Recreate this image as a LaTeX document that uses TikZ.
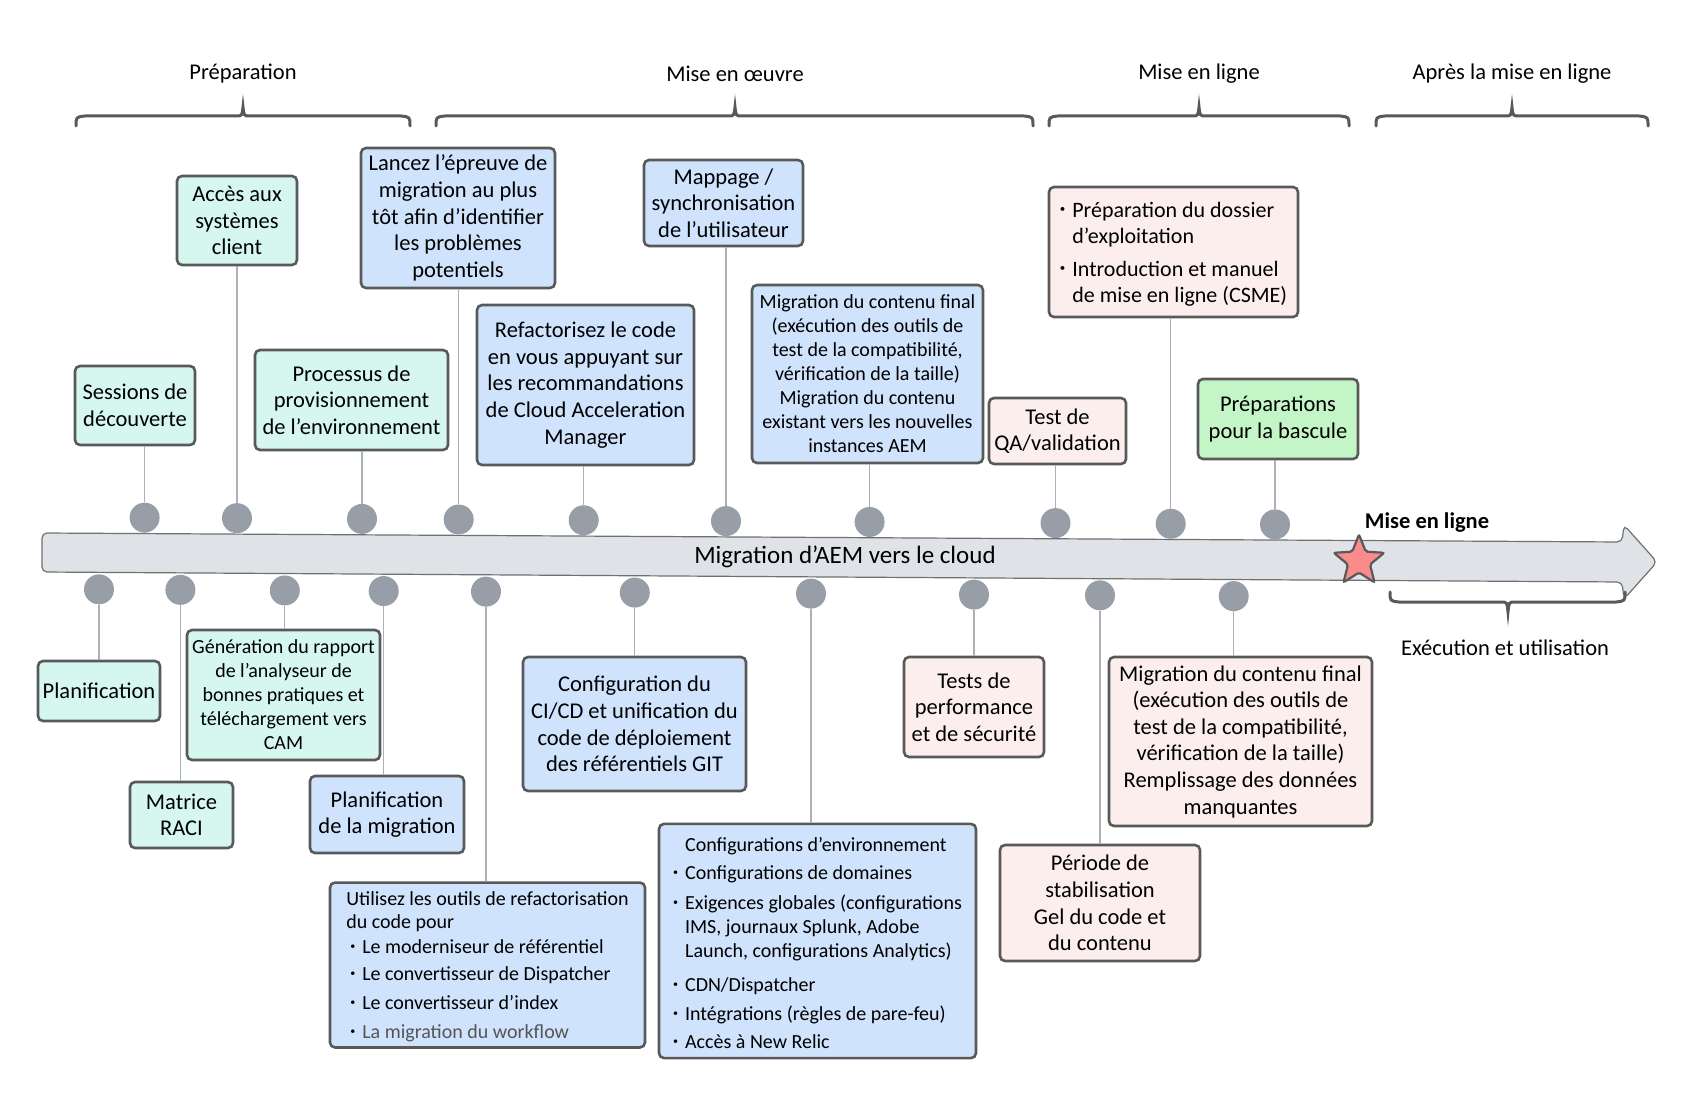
\documentclass[tikz,border=0pt]{standalone}
\usepackage{fontspec}
\setmainfont{Carlito}
\usepackage{graphicx}
\usetikzlibrary{shapes.geometric}

\definecolor{prepfill}{HTML}{D5F7EF}
\definecolor{implfill}{HTML}{CFE3FC}
\definecolor{livefill}{HTML}{FDEEEE}
\definecolor{cutfill}{HTML}{C3F5C7}
\definecolor{boxline}{HTML}{595959}
\definecolor{arrowfill}{HTML}{DFE2E6}
\definecolor{arrowline}{HTML}{707070}
\definecolor{dotfill}{HTML}{979EA8}
\definecolor{connline}{HTML}{ABB0B7}
\definecolor{starfill}{HTML}{F98B8B}
\definecolor{lasttext}{HTML}{555555}

% 小圆点
\newcommand{\bul}{\raisebox{0.2em}{\scalebox{0.5}{\textbullet}}}
% 阶段花括号(左端, 尖端, 右端)
\newcommand{\phasebrace}[3]{%
  \draw[brace] (#1,126) .. controls (#1,117) .. (#1+9,116) -- (#2-7,116)
    .. controls (#2-1,116) .. (#2,107) .. controls (#2+1,116) .. (#2+7,116)
    -- (#3-9,116) .. controls (#3,117) .. (#3,126);}

\tikzset{
  box/.style={draw=boxline, line width=2.6pt, rounded corners=5pt, align=center, inner sep=2pt},
  prepbox/.style={box, fill=prepfill},
  implbox/.style={box, fill=implfill},
  livebox/.style={box, fill=livefill},
  cutbox/.style={box, fill=cutfill},
  smalltext/.style={font=\fontsize{20}{24}\selectfont},
  dot/.style={circle, fill=dotfill, minimum size=30pt, inner sep=0pt},
  conn/.style={draw=connline, line width=1.3pt},
  brace/.style={draw=boxline, line width=3pt, line cap=round},
  arrowbody/.style={draw=arrowline, fill=arrowfill, line width=1.2pt, rounded corners=5pt},
}

\begin{document}
\begin{tikzpicture}[x=1pt, y=-1pt, font=\fontsize{22.5}{26.6}\selectfont]
		\useasboundingbox (0,0) rectangle (1706,1099);
		
		% 阶段标题与花括号
		\node (lprep) at (243,74) {Préparation};
		\node (limpl) at (735,74) {Mise en œuvre};
		\node (llive) at (1199,74) {Mise en ligne};
		\node (lpost) at (1512,74) {Après la mise en ligne};
		\phasebrace{76}{243}{410}
		\phasebrace{436}{735}{1033}
		\phasebrace{1049}{1199}{1349}
		\phasebrace{1376}{1512}{1648}
		
		% 时间轴箭头
		\draw[arrowbody] (42,533) -- (1622,542) -- (1624,525) -- (1657,562)
		-- (1624,599) -- (1622,582) -- (42,572) -- cycle;
		\node[font=\fontsize{25}{28}\selectfont] (axis) at (845,557) {Migration d’AEM vers le cloud};
		
		% 上线星标
		\node[star, star points=5, star point ratio=2.3, fill=starfill, draw=boxline,
		line width=2.2pt, minimum size=53pt, inner sep=0pt, rounded corners=2pt] (star) at (1359,561) {};
		\node[font=\bfseries\fontsize{22.5}{26}\selectfont] (golive) at (1427,523) {Mise en ligne};
		
		% 下方花括号(运行)
		\draw[brace] (1390,592) .. controls (1390,601) .. (1399,602) -- (1501,602)
		.. controls (1507,602) .. (1508,612) .. controls (1509,602) .. (1515,602)
		-- (1616,602) .. controls (1625,601) .. (1625,592);
		\node (lrun) at (1505,648) {Exécution et utilisation};
		
		% 上方任务框
		\node[prepbox, minimum width=120, minimum height=79] (t1) at (135,405.5) {Sessions de\\découverte};
		\node[prepbox, minimum width=120, minimum height=89] (t2) at (237,220.5) {Accès aux\\systèmes\\client};
		\node[prepbox, minimum width=193, minimum height=100] (t3) at (351.5,400) {Processus de\\provisionnement\\de l’environnement};
		\node[implbox, minimum width=194, minimum height=140] (t4) at (458,218) {Lancez l’épreuve de\\migration au plus\\tôt afin d’identifier\\les problèmes\\potentiels};
		\node[implbox, minimum width=217, minimum height=160] (t5) at (585.5,385) {Refactorisez le code\\en vous appuyant sur\\les recommandations\\de Cloud Acceleration\\Manager};
		\node[implbox, minimum width=159, minimum height=86] (t6) at (723.5,203) {Mappage /\\synchronisation\\de l’utilisateur};
		\node[implbox, smalltext, minimum width=231, minimum height=178] (t7) at (867.5,374) {Migration du contenu final\\(exécution des outils de\\test de la compatibilité,\\vérification de la taille)\\Migration du contenu\\existant vers les nouvelles\\instances AEM};
		\node[livebox, minimum width=137, minimum height=66] (t8) at (1057.5,431) {Test de\\QA/validation};
		\node[livebox, minimum width=249, minimum height=130, font=\fontsize{22}{26}\selectfont] (t9) at (1173.5,252) {%
			\begin{tabular}{@{}l@{\hspace{7pt}}l@{}}
				\bul & \rule{0pt}{23pt}Préparation du dossier\\
				& d’exploitation\\[7pt]
				\bul & Introduction et manuel\\
				& de mise en ligne (CSME)
		\end{tabular}};
		\node[cutbox, minimum width=160, minimum height=80] (t10) at (1278,419) {Préparations\\pour la bascule};
		
		% 下方任务框
		\node[prepbox, minimum width=122, minimum height=60] (b1) at (99,691) {Planification};
		\node[prepbox, minimum width=103, minimum height=66] (b2) at (181.5,815) {Matrice\\RACI};
		\node[prepbox, smalltext, minimum width=193, minimum height=130] (b3) at (283.5,695) {Génération du rapport\\de l’analyseur de\\bonnes pratiques et\\téléchargement vers\\CAM};
		\node[implbox, minimum width=154, minimum height=77] (b4) at (387,814.5) {Planification\\de la migration};
		\node[implbox, minimum width=315, minimum height=160, font=\fontsize{20}{23}\selectfont] (b5) at (487.5,965) {%
			\begin{tabular}{@{}l@{}}
				\rule{0pt}{21pt}Utilisez les outils de refactorisation\\
				du code pour\\[2pt]
				\hspace{4pt}\bul\hspace{7pt}Le moderniseur de référentiel\\[4pt]
				\hspace{4pt}\bul\hspace{7pt}Le convertisseur de Dispatcher\\[6pt]
				\hspace{4pt}\bul\hspace{7pt}Le convertisseur d’index\\[6pt]
				\hspace{4pt}\bul\hspace{7pt}\textcolor{lasttext}{La migration du workflow}
		\end{tabular}};
		\node[implbox, minimum width=223, minimum height=134] (b6) at (634.5,724) {Configuration du\\CI/CD et unification du\\code de déploiement\\des référentiels GIT};
		\node[implbox, minimum width=317, minimum height=232, font=\fontsize{20}{24}\selectfont] (b7) at (817.5,941) {%
			\begin{tabular}{@{}l@{\hspace{7pt}}l@{}}
				& \rule{0pt}{26pt}Configurations d’environnement\\[4pt]
				\bul & Configurations de domaines\\[6pt]
				\bul & Exigences globales (configurations\\
				& IMS, journaux Splunk, Adobe\\
				& Launch, configurations Analytics)\\[10pt]
				\bul & CDN/Dispatcher\\[5pt]
				\bul & Intégrations (règles de pare-feu)\\[4pt]
				\bul & Accès à New Relic
		\end{tabular}};
		\node[livebox, minimum width=140, minimum height=100] (b8) at (974,707) {Tests de\\performance\\et de sécurité};
		\node[livebox, minimum width=200, minimum height=116] (b9) at (1100,903) {Période de\\stabilisation\\Gel du code et\\du contenu};
		\node[livebox, minimum width=263, minimum height=169] (b10) at (1240.5,741.5) {Migration du contenu final\\(exécution des outils de\\test de la compatibilité,\\vérification de la taille)\\Remplissage des données\\manquantes};
		
		% 时间轴上的圆点
		\foreach \n/\x in {1/144.6, 2/237, 3/362, 4/458.7, 5/583.7, 6/726, 7/869.6, 8/1055.5, 9/1170.7, 10/1275}
		\node[dot] (td\n) at (\x,{517+0.006*(\x-42)}) {};
		\foreach \n/\x in {1/99, 2/180.4, 3/284.8, 4/383.7, 5/486, 6/634.8, 7/811, 8/974, 9/1100, 10/1233.7}
		\node[dot] (bd\n) at (\x,{589+0.006*(\x-42)}) {};
		
		% 圆点到任务框的连线
		\foreach \n in {1,...,10} {
			\draw[conn] (td\n.north) -- (td\n.north |- t\n.south);
			\draw[conn] (bd\n.south) -- (bd\n.south |- b\n.north);
		}
	\end{tikzpicture}
\end{document}
